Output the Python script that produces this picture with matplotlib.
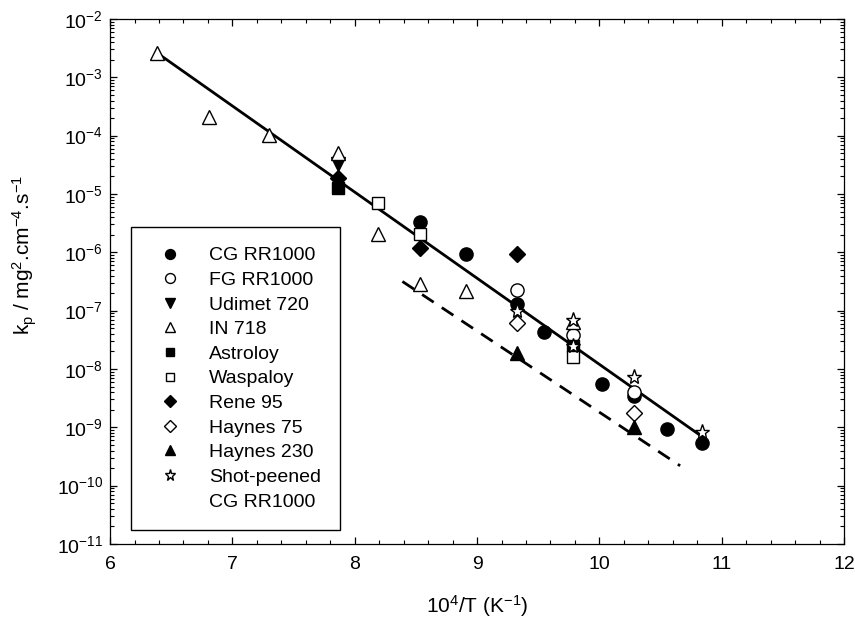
import matplotlib
matplotlib.use("Agg")
import matplotlib.pyplot as plt
from matplotlib.lines import Line2D
from matplotlib.ticker import LogLocator, MultipleLocator

plt.rcParams['font.family'] = ['Liberation Sans', 'DejaVu Sans']
plt.rcParams['mathtext.fontset'] = 'custom'
plt.rcParams['mathtext.rm'] = 'Liberation Sans'
plt.rcParams['mathtext.it'] = 'Liberation Sans'
plt.rcParams['mathtext.default'] = 'regular'

# data (x = 10^4/T, y = kp)
cg_x = [8.535, 8.911, 9.325, 9.549, 10.02, 10.28, 10.55, 10.84]
cg_y = [3.35e-6, 9.3e-7, 1.3e-7, 4.3e-8, 5.5e-9, 3.5e-9, 9.5e-10, 5.4e-10]
fg_x = [9.325, 9.783, 10.28]
fg_y = [2.3e-7, 3.8e-8, 4.1e-9]
udimet_x = [7.867]
udimet_y = [3.2e-5]
in718_x = [6.382, 6.81, 7.30, 7.867, 8.19, 8.535, 8.911, 9.783]
in718_y = [2.58e-3, 2.07e-4, 1.03e-4, 5.0e-5, 2.1e-6, 2.86e-7, 2.2e-7, 6.3e-8]
astroloy_x = [7.867, 9.783]
astroloy_y = [1.26e-5, 2.45e-8]
waspaloy_x = [8.19, 8.535, 9.783]
waspaloy_y = [6.9e-6, 2.1e-6, 1.63e-8]
rene_x = [7.867, 8.535, 9.325]
rene_y = [1.86e-5, 1.18e-6, 9.3e-7]
h75_x = [9.325, 10.28]
h75_y = [6.2e-8, 1.78e-9]
h230_x = [9.325, 10.28]
h230_y = [1.86e-8, 1.02e-9]
shot_x = [9.325, 9.783, 9.783, 10.28, 10.84]
shot_y = [1.0e-7, 6.9e-8, 2.5e-8, 7.4e-9, 8.4e-10]

# fitted lines
fit_x = [6.41, 10.84]
fit_y = [2.4e-3, 6.9e-10]
low_x = [8.39, 10.66]
low_y = [3.16e-7, 2.19e-10]

series = [
    (cg_x, cg_y, 'o', 'k', 'CG RR1000', 9.5),
    (fg_x, fg_y, 'o', 'w', 'FG RR1000', 9.5),
    (udimet_x, udimet_y, 'v', 'k', 'Udimet 720', 9.5),
    (in718_x, in718_y, '^', 'w', 'IN 718', 9.5),
    (astroloy_x, astroloy_y, 's', 'k', 'Astroloy', 8.5),
    (waspaloy_x, waspaloy_y, 's', 'w', 'Waspaloy', 8.5),
    (rene_x, rene_y, 'D', 'k', 'Rene 95', 8),
    (h75_x, h75_y, 'D', 'w', 'Haynes 75', 8),
    (h230_x, h230_y, '^', 'k', 'Haynes 230', 9.5),
    (shot_x, shot_y, '*', 'w', 'Shot-peened', 11),
]

fig = plt.figure(figsize=(8.55, 6.34), dpi=100)
ax = fig.add_axes([0.1287, 0.1420, 0.8585, 0.8281])

ax.plot(fit_x, fit_y, color='k', lw=2.0, zorder=2)
ax.plot(low_x, low_y, color='k', lw=2.0, dashes=[5, 3.5], zorder=2)

handles = []
for xs, ys, m, fc, lab, ms in series:
    ax.plot(xs, ys, ls='none', marker=m, mfc=fc, mec='k', mew=1.0, ms=ms, zorder=3)
    handles.append(Line2D([], [], ls='none', marker=m, mfc=fc, mec='k', mew=1.0,
                          ms=ms * 0.75, label=lab))
handles.append(Line2D([], [], ls='none', marker=None, label='CG RR1000'))

ax.set_yscale('log')
ax.set_xlim(6, 12)
ax.set_ylim(1e-11, 1e-2)
ax.xaxis.set_major_locator(MultipleLocator(1))
ax.xaxis.set_minor_locator(MultipleLocator(0.2))
ax.yaxis.set_major_locator(LogLocator(base=10, numticks=20))
ax.yaxis.set_minor_locator(LogLocator(base=10, subs=range(2, 10), numticks=20))
ax.tick_params(which='both', direction='in', top=True, right=True, labelsize=14)
ax.tick_params(axis='x', which='major', pad=9)
ax.tick_params(axis='y', which='major', pad=5)
ax.tick_params(which='major', length=5, width=0.9)
ax.tick_params(which='minor', length=3, width=0.8)
for sp in ax.spines.values():
    sp.set_linewidth(0.9)

ax.set_xlabel('10$^4$/T (K$^{-1}$)', fontsize=15, labelpad=14)
ax.set_ylabel('k$_p$ / mg$^2$.cm$^{-4}$.s$^{-1}$', fontsize=15)
ax.yaxis.set_label_coords(-0.097, 0.55)

leg = ax.legend(handles=handles, loc='lower left', bbox_to_anchor=(0.0286, 0.0267),
                borderaxespad=0, fontsize=14, frameon=True, fancybox=False,
                edgecolor='k', handlelength=2.0, handletextpad=1.0, borderpad=1.0,
                labelspacing=0.36, framealpha=1)
leg.get_frame().set_linewidth(1.0)

fig.savefig('out.png', dpi=100)
